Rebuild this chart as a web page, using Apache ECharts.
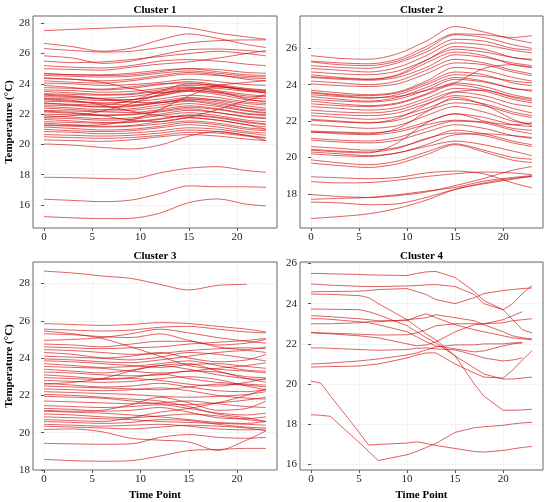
<!DOCTYPE html>
<html>
<head>
<meta charset="utf-8">
<script src="https://cdn.jsdelivr.net/npm/echarts@6/dist/echarts.min.js"></script>
<style>
html, body { margin: 0; padding: 0; background: #fff; }
#main { width: 550px; height: 502px; }
</style>
</head>
<body>
<div id="main"></div>
<script>
// time points sampled for clusters 1-3, and for cluster 4
const timeABC = [0, 3, 6, 9, 12, 15, 18, 21, 23];
const timeD = [0, 1, 2, 5, 6, 7, 10, 11, 12, 13, 15, 17, 18, 20, 21, 22, 23];

const xTicks = [0, 5, 10, 15, 20];
const yTicks1 = [16, 18, 20, 22, 24, 26, 28];
const yTicks2 = [18, 20, 22, 24, 26];
const yTicks3 = [18, 20, 22, 24, 26, 28];
const yTicks4 = [16, 18, 20, 22, 24, 26];

// Cluster 1 temperature curves (one row per sensor)
const cluster1 = [
  [27.51, 27.6, 27.67, 27.75, 27.82, 27.7, 27.35, 27.1, 26.94],
  [26.67, 26.45, 26.15, 26.35, 26.9, 27.3, 27.0, 26.6, 26.4],
  [26.33, 26.2, 26.1, 26.15, 26.4, 26.7, 26.85, 26.9, 26.9],
  [25.85, 25.7, 25.35, 25.5, 25.9, 26.25, 26.3, 26.2, 26.1],
  [25.5, 25.4, 25.45, 25.6, 25.8, 26.0, 26.15, 26.0, 25.85],
  [25.2, 25.1, 25.05, 25.2, 25.5, 25.6, 25.5, 25.3, 25.2],
  [25.0, 24.95, 24.9, 25.1, 25.3, 25.45, 25.7, 26.0, 26.2],
  [24.7, 24.6, 24.6, 24.7, 24.9, 25.0, 24.8, 24.6, 24.55],
  [24.65, 24.6, 24.55, 24.6, 24.8, 25.0, 24.95, 24.75, 24.7],
  [24.55, 24.5, 24.45, 24.5, 24.7, 24.85, 24.7, 24.5, 24.45],
  [24.4, 24.3, 24.1, 23.7, 23.4, 23.6, 23.9, 24.1, 24.2],
  [24.35, 24.3, 24.2, 24.3, 24.55, 24.75, 24.6, 24.3, 24.2],
  [24.2, 24.1, 24.05, 24.2, 24.45, 24.65, 24.55, 24.4, 24.35],
  [24.05, 24.0, 23.9, 23.95, 24.1, 24.3, 24.15, 23.95, 23.9],
  [23.9, 23.75, 23.6, 23.7, 23.95, 24.15, 23.95, 23.7, 23.6],
  [23.75, 23.7, 23.65, 23.8, 24.0, 24.05, 23.85, 23.55, 23.45],
  [23.6, 23.55, 23.45, 23.5, 23.7, 23.9, 23.8, 23.65, 23.55],
  [23.5, 23.4, 23.3, 23.35, 23.6, 23.8, 23.55, 23.3, 23.2],
  [23.35, 23.3, 23.25, 23.3, 23.5, 23.75, 23.7, 23.5, 23.4],
  [23.3, 23.2, 23.0, 22.8, 22.75, 23.0, 22.8, 22.4, 22.2],
  [23.25, 23.15, 23.05, 23.15, 23.4, 23.6, 23.4, 23.1, 23.0],
  [23.15, 23.1, 23.0, 22.95, 23.2, 23.5, 23.3, 22.95, 22.85],
  [23.05, 23.0, 22.9, 22.95, 23.25, 23.55, 23.45, 23.2, 23.15],
  [23.0, 22.9, 22.6, 22.2, 21.9, 21.8, 21.6, 21.3, 21.0],
  [22.95, 22.85, 22.75, 22.8, 23.0, 23.25, 23.1, 22.8, 22.7],
  [22.85, 22.8, 22.7, 22.6, 22.85, 23.1, 22.9, 22.55, 22.4],
  [22.75, 22.6, 22.45, 22.5, 22.75, 23.0, 22.95, 22.7, 22.6],
  [22.7, 22.65, 22.6, 22.9, 23.5, 24.0, 23.9, 23.6, 23.5],
  [22.6, 22.55, 22.5, 22.55, 22.75, 22.9, 22.7, 22.4, 22.3],
  [22.5, 22.4, 22.3, 22.35, 22.6, 22.85, 22.6, 22.25, 22.1],
  [22.4, 22.3, 22.2, 22.25, 22.45, 22.7, 22.5, 22.2, 22.05],
  [22.25, 22.2, 22.15, 22.1, 22.3, 22.55, 22.35, 22.05, 21.95],
  [22.2, 22.1, 21.9, 21.6, 21.5, 21.8, 22.3, 22.9, 23.3],
  [22.15, 22.05, 21.95, 22.0, 22.2, 22.45, 22.3, 22.0, 21.9],
  [22.0, 21.95, 21.9, 21.95, 22.15, 22.35, 22.1, 21.8, 21.7],
  [21.9, 21.8, 21.7, 21.75, 22.0, 22.25, 22.1, 21.85, 21.75],
  [21.8, 21.9, 22.2, 22.7, 23.3, 23.7, 23.5, 23.0, 22.8],
  [21.75, 21.7, 21.6, 21.65, 21.9, 22.1, 21.9, 21.6, 21.5],
  [21.65, 21.55, 21.45, 21.5, 21.7, 21.95, 21.8, 21.5, 21.35],
  [21.5, 21.45, 21.4, 21.45, 21.65, 21.9, 21.75, 21.45, 21.3],
  [21.4, 21.3, 21.2, 21.25, 21.5, 21.75, 21.6, 21.3, 21.15],
  [21.3, 21.25, 21.3, 21.6, 22.3, 23.2, 23.8, 23.6, 23.4],
  [21.25, 21.2, 21.15, 21.2, 21.35, 21.55, 21.4, 21.1, 21.0],
  [21.15, 21.05, 20.95, 21.0, 21.2, 21.45, 21.3, 21.0, 20.9],
  [21.0, 20.9, 20.85, 20.9, 21.1, 21.3, 21.15, 20.85, 20.75],
  [20.85, 20.8, 20.7, 20.75, 20.9, 21.1, 21.0, 20.75, 20.6],
  [20.65, 20.6, 20.55, 20.6, 20.75, 20.95, 20.85, 20.6, 20.45],
  [20.5, 20.45, 20.4, 20.45, 20.6, 20.8, 20.75, 20.55, 20.4],
  [20.3, 20.25, 20.2, 20.3, 20.5, 20.65, 20.55, 20.35, 20.25],
  [20.03, 19.95, 19.8, 19.7, 19.95, 20.55, 20.85, 20.6, 20.25],
  [17.83, 17.8, 17.75, 17.72, 18.12, 18.43, 18.53, 18.27, 18.16],
  [16.38, 16.3, 16.22, 16.32, 16.75, 17.26, 17.2, 17.2, 17.17],
  [15.23, 15.15, 15.1, 15.12, 15.46, 16.16, 16.4, 16.05, 15.94]
];

// Cluster 2
const cluster2 = [
  [25.6, 25.45, 25.4, 25.7, 26.4, 27.2, 26.9, 26.5, 26.3],
  [25.3, 25.2, 25.15, 25.4, 26.1, 26.8, 26.75, 26.6, 26.7],
  [25.25, 25.1, 25.05, 25.3, 25.95, 26.75, 26.6, 26.2, 26.0],
  [25.05, 24.95, 24.9, 25.2, 25.8, 26.5, 26.4, 26.0, 25.9],
  [24.9, 24.8, 24.7, 24.95, 25.6, 26.3, 26.2, 25.9, 25.75],
  [24.7, 24.6, 24.55, 24.75, 25.35, 26.1, 25.95, 25.5, 25.35],
  [24.55, 24.4, 24.3, 24.5, 25.2, 25.8, 25.6, 25.1, 24.95],
  [24.45, 24.35, 24.3, 24.55, 25.35, 25.95, 25.8, 25.5, 25.4],
  [24.4, 24.3, 24.25, 24.4, 24.95, 25.65, 25.5, 25.2, 25.05],
  [24.2, 24.1, 24.0, 24.2, 24.8, 25.4, 25.2, 24.8, 24.6],
  [24.05, 23.95, 23.9, 24.05, 24.6, 25.2, 25.1, 24.7, 24.5],
  [23.7, 23.55, 23.45, 23.6, 24.2, 24.95, 24.8, 24.4, 24.2],
  [23.6, 23.45, 23.4, 23.55, 24.1, 24.7, 24.55, 24.1, 23.95],
  [23.55, 23.4, 23.3, 23.35, 23.7, 24.1, 24.9, 25.1, 24.95],
  [23.45, 23.35, 23.25, 23.45, 24.0, 24.55, 24.45, 24.2, 24.1],
  [23.35, 23.2, 23.1, 23.3, 23.85, 24.4, 24.2, 23.8, 23.65],
  [23.2, 23.1, 23.05, 23.2, 23.7, 24.3, 24.15, 23.8, 23.7],
  [23.1, 22.95, 22.85, 23.0, 23.5, 24.1, 23.9, 23.45, 23.25],
  [22.95, 22.85, 22.8, 22.95, 23.45, 24.0, 23.75, 23.3, 23.1],
  [22.8, 22.7, 22.6, 22.75, 23.25, 23.8, 23.65, 23.2, 23.0],
  [22.6, 22.5, 22.45, 22.6, 23.1, 23.6, 23.4, 22.95, 22.8],
  [22.45, 22.35, 22.3, 22.45, 22.95, 23.4, 23.2, 22.7, 22.45],
  [22.3, 22.2, 22.1, 22.25, 22.7, 23.2, 22.95, 22.5, 22.3],
  [22.1, 22.0, 21.9, 22.05, 22.55, 23.0, 22.85, 22.4, 22.2],
  [22.05, 21.95, 21.9, 22.15, 22.9, 23.6, 23.7, 23.35, 23.2],
  [21.8, 21.7, 21.6, 21.75, 22.3, 22.8, 22.5, 22.0, 21.85],
  [21.45, 21.4, 21.35, 21.5, 21.95, 22.4, 22.2, 21.8, 21.7],
  [21.4, 21.35, 21.3, 21.6, 22.5, 23.3, 22.9, 22.1, 21.75],
  [21.4, 21.3, 21.25, 21.4, 21.8, 22.05, 21.95, 21.8, 21.9],
  [21.05, 20.95, 20.9, 21.1, 21.6, 22.0, 21.9, 21.5, 21.3],
  [20.95, 20.85, 20.8, 20.95, 21.4, 21.8, 21.6, 21.2, 21.05],
  [20.6, 20.5, 20.4, 20.55, 21.0, 21.5, 21.3, 20.9, 20.7],
  [20.45, 20.35, 20.3, 20.5, 21.05, 21.35, 21.2, 20.8, 20.6],
  [20.4, 20.3, 20.25, 20.8, 21.9, 22.4, 22.0, 21.6, 21.5],
  [20.3, 20.2, 20.1, 20.25, 20.7, 21.25, 21.3, 21.2, 21.1],
  [20.2, 20.1, 20.05, 20.25, 20.6, 20.9, 20.7, 20.35, 20.1],
  [19.87, 19.7, 19.6, 19.8, 20.3, 20.75, 20.4, 20.0, 19.9],
  [19.69, 19.55, 19.45, 19.65, 20.15, 20.7, 20.3, 19.85, 19.72],
  [18.94, 18.88, 18.83, 18.9, 19.15, 19.25, 19.1, 18.6, 18.33],
  [18.67, 18.6, 18.62, 18.75, 18.95, 19.1, 19.2, 19.15, 19.05],
  [17.96, 17.85, 17.8, 17.9, 18.1, 18.45, 18.85, 19.3, 19.5],
  [17.7, 17.75, 17.8, 17.95, 18.15, 18.35, 18.7, 18.9, 19.0],
  [17.55, 17.5, 17.4, 17.45, 17.8, 18.25, 18.6, 18.85, 18.95],
  [16.64, 16.75, 16.9, 17.2, 17.65, 18.24, 18.55, 18.8, 18.97]
];

// Cluster 3
const cluster3 = [
  [28.66, 28.56, 28.4, 28.27, 27.95, 27.65, 27.9, 27.95, null],
  [25.85, 25.8, 25.75, 25.8, 25.9, 25.85, 25.7, 25.55, 25.4],
  [25.55, 25.5, 25.45, 25.5, 25.65, 25.7, 25.55, 25.4, 25.35],
  [25.45, 25.3, 25.05, 24.6, 24.1, 23.6, 23.4, 23.3, 23.2],
  [25.3, 25.25, 25.15, 25.1, 25.3, 24.95, 24.7, 24.8, 25.0],
  [24.95, 25.0, 25.1, 25.3, 25.55, 25.35, 25.1, 24.9, 24.8],
  [24.75, 24.7, 24.6, 24.75, 24.9, 24.9, 24.6, 24.45, 24.6],
  [24.6, 24.55, 24.5, 24.55, 24.6, 24.75, 24.85, 24.95, 25.05],
  [24.45, 24.4, 24.3, 24.2, 24.25, 24.4, 24.5, 24.55, 24.5],
  [24.3, 24.2, 24.0, 23.9, 24.05, 24.3, 24.2, 24.0, 23.85],
  [24.1, 24.05, 24.0, 24.1, 24.3, 24.0, 23.8, 23.9, 24.2],
  [23.95, 23.9, 23.8, 23.75, 23.9, 24.1, 24.3, 24.4, 24.3],
  [23.85, 23.8, 23.7, 23.6, 23.5, 23.65, 23.7, 23.55, 23.45],
  [23.7, 23.6, 23.5, 23.55, 23.7, 23.85, 23.6, 23.35, 23.3],
  [23.55, 23.5, 23.45, 23.3, 23.2, 23.3, 23.45, 23.6, 23.75],
  [23.4, 23.3, 23.2, 23.35, 23.6, 23.4, 23.1, 22.9, 22.85],
  [23.25, 23.2, 23.1, 23.05, 23.1, 23.3, 23.25, 23.0, 22.95],
  [23.1, 23.0, 22.9, 22.95, 23.15, 22.9, 22.7, 22.6, 22.55],
  [22.95, 22.9, 22.85, 22.9, 22.8, 22.6, 22.5, 22.7, 22.9],
  [22.8, 22.75, 22.7, 22.75, 22.9, 23.0, 22.85, 22.5, 22.3],
  [22.65, 22.55, 22.45, 22.5, 22.65, 22.45, 22.25, 22.2, 22.3],
  [22.6, 22.7, 22.9, 23.3, 23.6, 23.7, 23.3, 22.9, 22.7],
  [22.5, 22.45, 22.4, 22.35, 22.3, 22.45, 22.6, 22.55, 22.45],
  [22.35, 22.3, 22.25, 22.3, 22.4, 22.25, 22.0, 21.85, 21.8],
  [22.2, 22.15, 22.1, 22.05, 21.95, 21.9, 21.95, 22.05, 22.2],
  [22.05, 22.0, 21.9, 21.8, 21.7, 21.4, 21.0, 20.8, 20.6],
  [21.95, 21.9, 21.85, 21.7, 21.55, 21.5, 21.6, 21.75, 21.9],
  [21.7, 21.65, 21.6, 21.55, 21.6, 21.7, 21.55, 21.4, 21.35],
  [21.45, 21.4, 21.35, 21.4, 21.5, 21.3, 21.05, 20.95, 21.05],
  [21.3, 21.25, 21.15, 21.2, 21.35, 21.1, 20.8, 20.75, 20.85],
  [21.2, 21.15, 21.2, 21.5, 21.9, 21.6, 21.2, 21.3, 21.7],
  [21.15, 21.1, 21.05, 20.95, 20.85, 20.7, 20.55, 20.5, 20.6],
  [21.0, 20.95, 20.85, 20.8, 20.9, 21.0, 20.9, 20.7, 20.6],
  [20.85, 20.8, 20.75, 20.7, 20.6, 20.55, 20.5, 20.45, 20.4],
  [20.7, 20.65, 20.6, 20.8, 21.1, 21.3, 21.6, 22.0, 22.35],
  [20.6, 20.55, 20.5, 20.55, 20.7, 20.65, 20.45, 20.3, 20.25],
  [20.45, 20.4, 20.35, 20.4, 20.45, 20.35, 20.2, 20.15, 20.2],
  [20.35, 20.3, 20.25, 20.2, 20.3, 20.4, 20.35, 20.25, 20.1],
  [20.17, 20.2, 20.05, 19.7, 19.6, 19.5, 19.05, 19.6, 20.1],
  [19.43, 19.4, 19.38, 19.4, 19.75, 19.9, 19.75, 19.7, 19.75],
  [18.57, 18.5, 18.47, 18.5, 18.75, 19.04, 19.1, 19.16, 19.16]
];

// Cluster 4 (read on timeD)
const cluster4 = [
  [25.5, 25.5, 25.48, 25.45, 25.43, 25.42, 25.4, 25.5, 25.58, 25.6, 25.3, 24.6, 24.15, 23.7, 23.2, 22.7, 22.55],
  [24.98, 24.95, 24.92, 24.86, 24.85, 24.85, 24.88, 24.9, 24.93, 24.95, 24.85, 24.45, 24.0, 23.7, 24.0, 24.5, 24.9],
  [24.58, 24.6, 24.6, 24.62, 24.65, 24.7, 24.75, 24.6, 24.45, 24.2, 24.0, 24.3, 24.5, 24.65, 24.7, 24.75, 24.78],
  [24.47, 24.47, 24.46, 24.4, 24.3, 24.0, 23.2, 22.85, 22.5, 22.2, 21.4, 20.0, 19.4, 18.7, 18.7, 18.72, 18.75],
  [23.73, 23.73, 23.72, 23.7, 23.6, 23.45, 22.9, 22.6, 22.3, 22.05, 21.4, 20.8, 20.5, 20.25, 20.25, 20.3, 20.35],
  [23.4, 23.38, 23.35, 23.25, 23.2, 23.15, 23.15, 23.35, 23.5, 23.3, 22.95, 22.7, 22.6, 22.4, 22.3, 22.25, 22.2],
  [23.25, 23.25, 23.22, 23.1, 23.05, 22.95, 22.6, 22.35, 22.1, 21.9, 21.75, 21.6, 21.65, 21.9, 22.0, 22.05, null],
  [23.0, 23.0, 23.0, 23.05, 23.1, 23.1, 23.2, 23.25, 23.3, 23.45, 23.3, 23.15, 22.95, 22.6, 22.4, 22.3, 22.25],
  [22.57, 22.55, 22.53, 22.48, 22.46, 22.44, 22.45, 22.55, 22.7, 22.9, 23.0, 23.0, 23.0, 23.05, 23.15, 23.2, 23.25],
  [22.55, 22.52, 22.5, 22.4, 22.35, 22.3, 22.0, 21.9, 21.95, 22.1, 22.6, 22.95, 23.0, 23.2, 23.4, 23.6, null],
  [21.8, 21.8, 21.78, 21.72, 21.7, 21.68, 21.72, 21.78, 21.8, 21.75, 21.7, 21.45, 21.3, 21.15, 21.2, 21.3, null],
  [21.0, 21.02, 21.05, 21.15, 21.2, 21.25, 21.45, 21.55, 21.7, 21.85, 21.95, 21.95, 22.0, 22.0, 22.05, 22.07, null],
  [20.85, 20.86, 20.87, 20.9, 20.95, 21.0, 21.3, 21.45, 21.55, 21.55, 21.0, 20.55, 20.35, 20.3, 20.7, 21.2, 21.65],
  [20.15, 20.05, 19.43, 17.6, 16.97, 17.0, 17.07, 17.13, 17.05, 16.95, 16.8, 16.65, 16.62, 16.7, 16.78, 16.85, 16.9],
  [18.48, 18.45, 18.4, 17.1, 16.65, 16.2, 16.49, 16.65, 16.85, 17.05, 17.6, 17.83, 17.88, 17.95, 18.02, 18.07, 18.1]
];

const font = 'Liberation Serif, Times New Roman, serif';
const lineColor = 'rgba(205, 0, 0, 0.62)';

// panel boxes in pixels, matched to the reference
const panels = [
  { title: 'Cluster 1', time: timeABC, lines: cluster1, yTicks: yTicks1, yMin: 14.48, yMax: 28.48, left: 33, top: 16, width: 244, yName: true, xName: false, smooth: 0.3 },
  { title: 'Cluster 2', time: timeABC, lines: cluster2, yTicks: yTicks2, yMin: 16.12, yMax: 27.78, left: 300, top: 16, width: 243, yName: false, xName: false, smooth: 0.3 },
  { title: 'Cluster 3', time: timeABC, lines: cluster3, yTicks: yTicks3, yMin: 18.0, yMax: 29.15, left: 33, top: 262, width: 244, yName: true, xName: true, smooth: 0.3 },
  { title: 'Cluster 4', time: timeD, lines: cluster4, yTicks: yTicks4, yMin: 15.73, yMax: 26.07, left: 300, top: 262, width: 243, yName: false, xName: true, smooth: false }
];
const panelHeight = 212;

const myChart = echarts.init(document.getElementById('main'), null, { renderer: 'canvas' });

const option = {
  animation: false,
  backgroundColor: '#fff',
  title: panels.map(p => ({
    text: p.title,
    left: p.left + p.width / 2,
    top: p.top - 11,
    padding: 0,
    textAlign: 'center',
    textStyle: { fontFamily: font, fontWeight: 'bold', fontSize: 11, color: '#000' }
  })),
  grid: panels.map(p => ({
    left: p.left, top: p.top, width: p.width, height: panelHeight,
    show: true, borderColor: '#666', borderWidth: 1, backgroundColor: 'transparent',
    containLabel: false
  })),
  xAxis: panels.map((p, i) => ({
    type: 'value',
    gridIndex: i,
    min: -1.15,
    max: 24.15,
    name: p.xName ? 'Time Point' : '',
    nameLocation: 'middle',
    nameGap: 20,
    nameTextStyle: { fontFamily: font, fontWeight: 'bold', fontSize: 11, color: '#000' },
    axisLine: { show: false },
    axisTick: { show: true, length: 3, customValues: xTicks, lineStyle: { color: '#555' } },
    axisLabel: { customValues: xTicks, fontFamily: font, fontSize: 11, color: '#222', margin: 4 },
    splitLine: { show: true, lineStyle: { color: '#d8d8d8', width: 0.6, type: 'dotted' } }
  })),
  yAxis: panels.map((p, i) => ({
    type: 'value',
    gridIndex: i,
    min: p.yMin,
    max: p.yMax,
    name: p.yName ? 'Temperature (°C)' : '',
    nameLocation: 'middle',
    nameGap: 18,
    nameTextStyle: { fontFamily: font, fontWeight: 'bold', fontSize: 11, color: '#000' },
    axisLine: { show: false },
    axisTick: { show: true, length: 3, customValues: p.yTicks, lineStyle: { color: '#555' } },
    axisLabel: { customValues: p.yTicks, fontFamily: font, fontSize: 11, color: '#222', margin: 3 },
    splitLine: { show: true, lineStyle: { color: '#d8d8d8', width: 0.6, type: 'dotted' } }
  })),
  series: []
};

panels.forEach((p, i) => {
  p.lines.forEach(vals => {
    const pts = [];
    vals.forEach((v, k) => { if (v != null) pts.push([p.time[k], v]); });
    option.series.push({
      type: 'line',
      xAxisIndex: i,
      yAxisIndex: i,
      data: pts,
      smooth: p.smooth,
      showSymbol: false,
      symbol: 'none',
      silent: true,
      lineStyle: { color: lineColor, width: 1 }
    });
  });
});

myChart.setOption(option);
</script>
</body>
</html>
